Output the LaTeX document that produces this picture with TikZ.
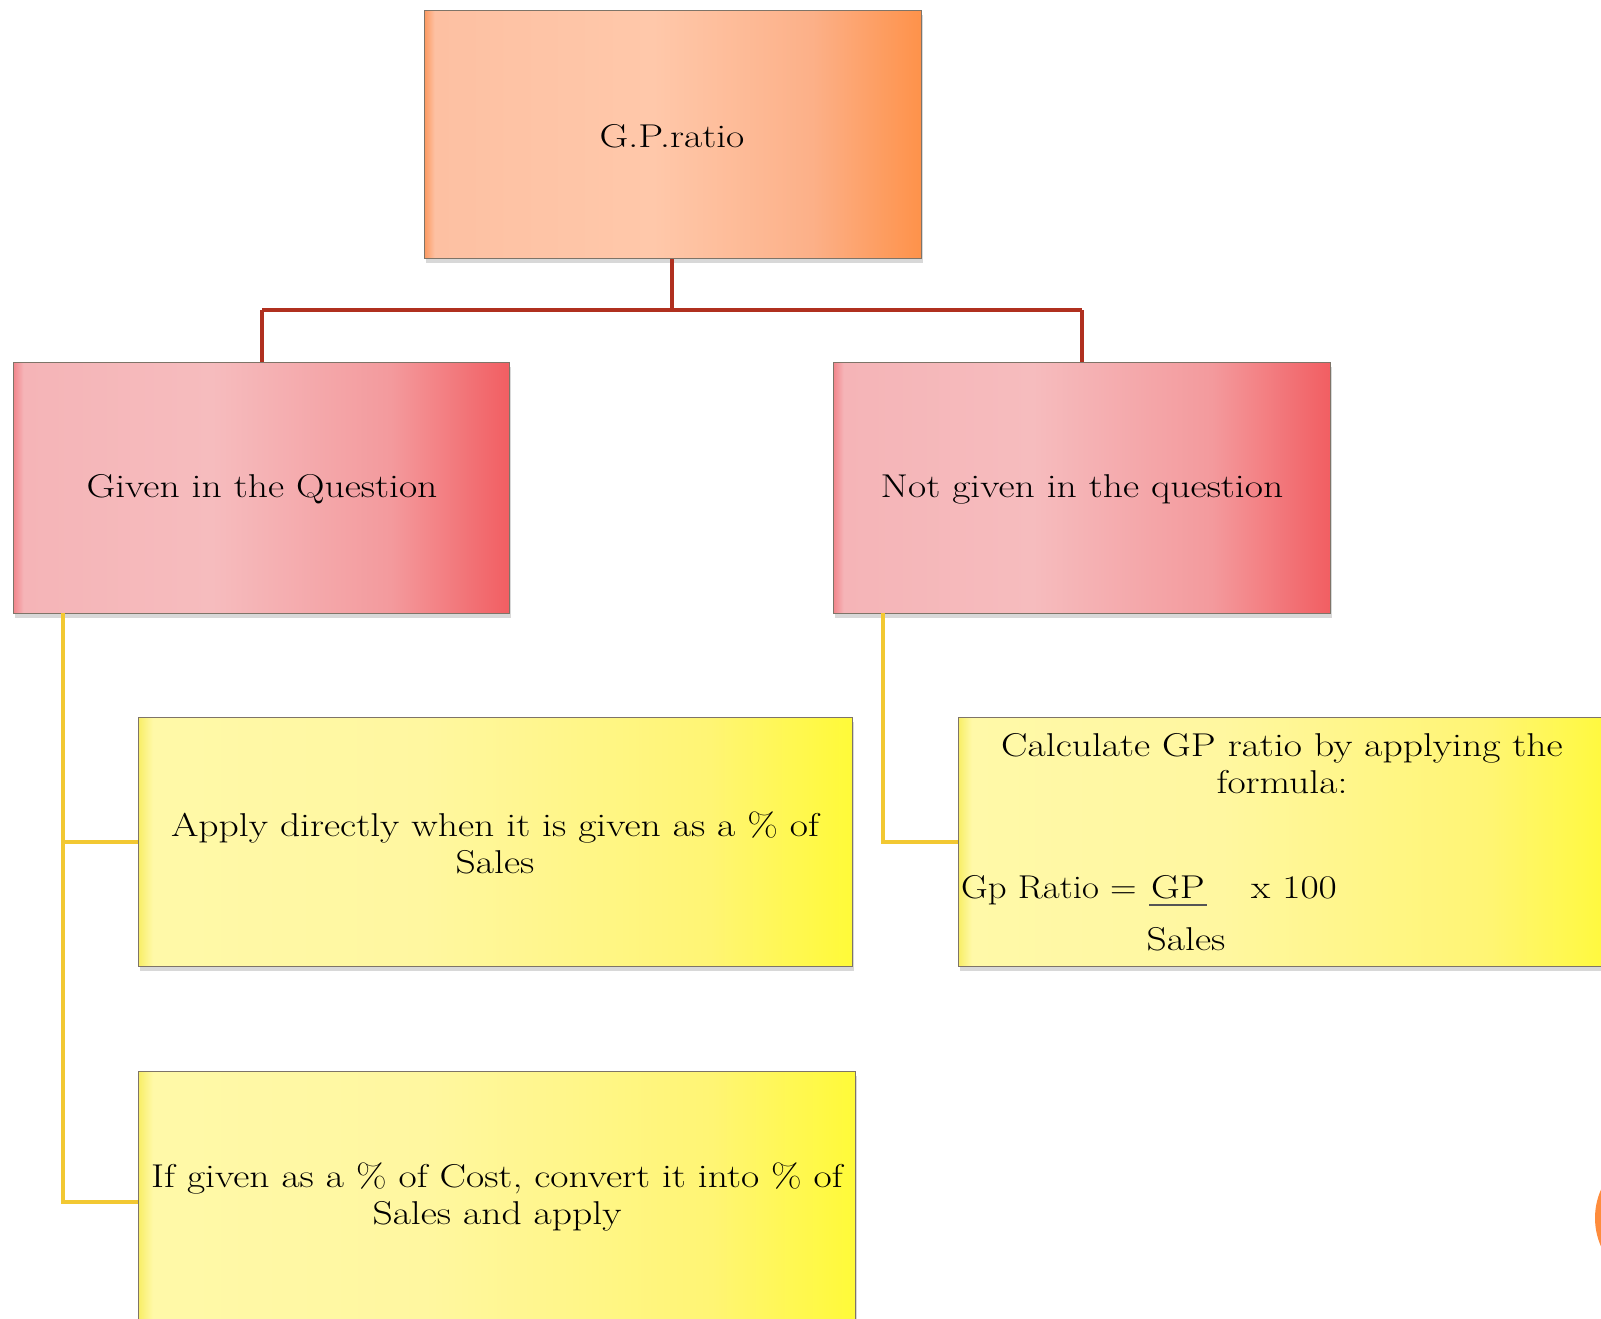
\documentclass[tikz,border=0pt]{standalone}
\usepackage{fontspec}
\setmainfont{Latin Modern Roman}[FakeStretch=1.2]
\usetikzlibrary{shadows}
\definecolor{redline}{HTML}{B0301F}
\definecolor{yelline}{HTML}{F2C832}
\definecolor{boxedge}{HTML}{7E7468}
\definecolor{ulgray}{HTML}{555555}
\definecolor{oA}{HTML}{FC9A62}
\definecolor{oB}{HTML}{FDC0A2}
\definecolor{oC}{HTML}{FFC8AA}
\definecolor{oD}{HTML}{FCB088}
\definecolor{oE}{HTML}{FE924A}
\definecolor{pA}{HTML}{F2868C}
\definecolor{pB}{HTML}{F5B4B7}
\definecolor{pC}{HTML}{F6BCBE}
\definecolor{pD}{HTML}{F39A9D}
\definecolor{pE}{HTML}{F25E62}
\definecolor{yA}{HTML}{F8EE66}
\definecolor{yB}{HTML}{FFF9A8}
\definecolor{yC}{HTML}{FFF7A0}
\definecolor{yD}{HTML}{FFF574}
\definecolor{yE}{HTML}{FFFA38}
\definecolor{circ}{HTML}{FE8C3C}
\pgfdeclarehorizontalshading{orangeshade}{100bp}{color(0bp)=(oA); color(25bp)=(oA); color(26bp)=(oB); color(48bp)=(oC); color(64bp)=(oD); color(75bp)=(oE); color(100bp)=(oE)}
\pgfdeclarehorizontalshading{pinkshade}{100bp}{color(0bp)=(pA); color(25bp)=(pA); color(26bp)=(pB); color(45bp)=(pC); color(63bp)=(pD); color(75bp)=(pE); color(100bp)=(pE)}
\pgfdeclarehorizontalshading{yellowshade}{100bp}{color(0bp)=(yA); color(25bp)=(yA); color(26bp)=(yB); color(45bp)=(yC); color(65bp)=(yD); color(75bp)=(yE); color(100bp)=(yE)}
\tikzset{
  gbox/.style={draw=boxedge, line width=1.2pt, rectangle, inner sep=0pt, anchor=north west,
    drop shadow={shadow xshift=1pt, shadow yshift=-4pt, opacity=0.25, fill=black!60}},
  topbox/.style={gbox, shading=orangeshade},
  midbox/.style={gbox, shading=pinkshade},
  leafbox/.style={gbox, shading=yellowshade},
  txt/.style={font=\fontsize{33}{37}\selectfont, align=center, inner sep=0pt},
  redconn/.style={draw=redline, line width=4pt},
  yelconn/.style={draw=yelline, line width=4pt}
}
\begin{document}
\begin{tikzpicture}[x=1pt,y=-1pt]
\useasboundingbox (0,0) rectangle (1601,1319);
\fill[white] (0,0) rectangle (1601,1319);
\node[topbox, minimum width=497pt, minimum height=248pt] (top) at (424,10) {};
\node[midbox, minimum width=496pt, minimum height=251pt] (left) at (13,362) {};
\node[midbox, minimum width=497pt, minimum height=251pt] (right) at (833,362) {};
\coordinate (jtop) at (672,310);
\coordinate (jl) at (262,310);
\coordinate (jr) at (1082,310);
\draw[redconn] (top.south -| jtop) -- (jtop);
\draw[redconn] (jl) -- (jr);
\draw[redconn] (jl) -- (jl |- left.north);
\draw[redconn] (jr) -- (jr |- right.north);
\coordinate (ly) at (63,613);
\coordinate (ry) at (883,613);
\node[leafbox, minimum width=714pt, minimum height=249pt] (b1) at (138,717) {};
\node[leafbox, minimum width=717pt, minimum height=260pt] (b2) at (138,1071) {};
\node[leafbox, minimum width=660pt, minimum height=249pt] (b3) at (958,717) {};
\draw[yelconn] (ly) -- (ly |- b2.west) -- (b2.west);
\draw[yelconn] (ly |- b1.west) -- (b1.west);
\draw[yelconn] (ry) -- (ry |- b3.west) -- (b3.west);
\node[txt] (ttop) at (672,136) {G.P.ratio};
\node[txt] (tleft) at (262,489) {Given in the Question};
\node[txt] (tright) at (1082,489) {Not given in the question};
\node[txt] (tb1) at (495,843) {Apply directly when it is given as a \% of\\Sales};
\node[txt] (tb2) at (497,1197) {If given as a \% of Cost, convert it into \% of\\Sales and apply};
\node[txt] (tb3) at (1282,764) {Calculate GP ratio by applying the\\formula:};
\node[txt, anchor=base west] (f1) at (961,898) {\scalebox{0.93}[1]{Gp Ratio =}};
\node[txt, anchor=base] (f1gp) at (1178,898) {GP};
\draw[ulgray, line width=1.6pt] ([xshift=-2pt,yshift=-7pt]f1gp.base west) -- ([xshift=2pt,yshift=-7pt]f1gp.base east);
\node[txt, anchor=base west] (f1x) at (1251,898) {x 100};
\node[txt] (f2) at (1186,939) {Sales};
\fill[circ] (1665,1218) circle (70);
\end{tikzpicture}
\end{document}
